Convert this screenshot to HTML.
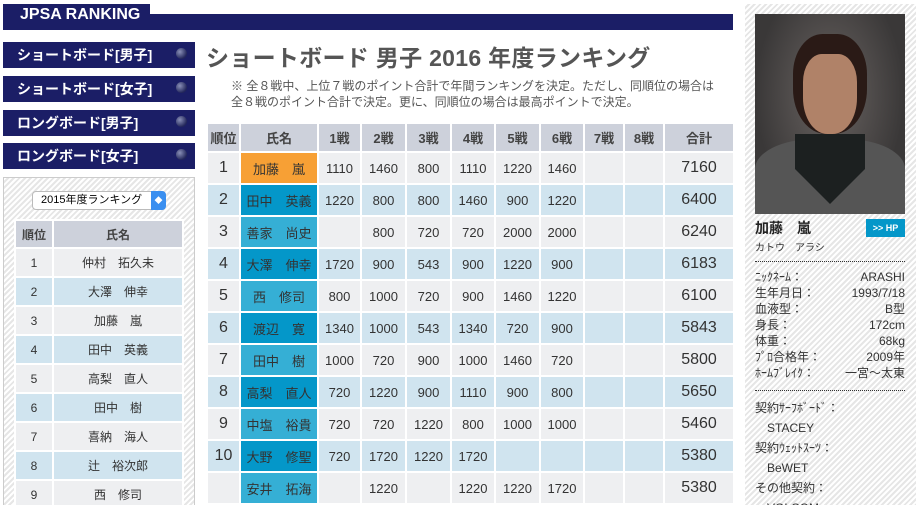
<!DOCTYPE html>
<html style="width:918px;height:505px;overflow:hidden"><head><meta charset="utf-8"><style>
*{margin:0;padding:0;box-sizing:border-box}
body{width:918px;height:505px;overflow:hidden;background:#fff;font-family:"Liberation Sans","Noto Sans CJK JP",sans-serif;color:#333;position:relative}
.abs{position:absolute}
.navy{background:#1b1e66}
.btn{position:absolute;left:3px;width:192px;height:26px;background:#1b1e66;color:#fff;font-weight:bold;font-size:14px;line-height:26px;padding-left:14px}
.btn i{position:absolute;right:8px;top:6px;width:11px;height:11px;border-radius:50%;background:radial-gradient(circle at 35% 35%,#8a90b8,#22265a 70%)}
.hatch{background:repeating-linear-gradient(135deg,#fff 0 2px,#e6e6e6 2px 4px);}
table{border-collapse:collapse}
td,th{border:2px solid #fff;text-align:center;padding:0}
th{background:#cdd1db;font-weight:bold;color:#444}
.mt td,.mt th{font-size:13px}
.mt tr.o td{background:#eeeff1}.mt tr.e td{background:#d0e4ef}
.mt td.rk{font-size:16px}
.mt td.tot{font-size:16px}
.n1{background:#f7a035!important}.nd{background:#0497c9!important}.nl{background:#35afd5!important}
.lt td{font-size:12px}.lt tr.o td{background:#eeeff1}.lt tr.e td{background:#d0e4ef}
.info{font-size:12px;line-height:16px;color:#333}
.info div{display:flex;justify-content:space-between}
</style></head><body>
<div class="abs navy" style="left:3px;top:4px;width:147px;height:26px"></div>
<div class="abs navy" style="left:3px;top:14px;width:730px;height:16px"></div>
<div class="abs" style="left:20px;top:6px;color:#fff;font-weight:bold;font-size:16px;letter-spacing:0">JPSA RANKING</div>
<div class="btn" style="top:42px">ショートボード[男子]<i></i></div>
<div class="btn" style="top:76px">ショートボード[女子]<i></i></div>
<div class="btn" style="top:110px">ロングボード[男子]<i></i></div>
<div class="btn" style="top:143px">ロングボード[女子]<i></i></div>
<div class="abs hatch" style="left:3px;top:177px;width:192px;height:328px;border:1px solid #ccc;border-bottom:none"></div>
<div class="abs" style="left:32px;top:191px;width:134px;height:19px;background:#fff;border:1px solid #bbb;border-radius:4px;font-size:11px;line-height:17px;padding-left:8px;color:#000">2015年度ランキング<span style="position:absolute;right:-1px;top:-1px;width:15px;height:19px;background:#3a8ff0;border-radius:0 4px 4px 0;color:#fff;font-size:8px;text-align:center;line-height:19px">◆</span></div>
<table class="abs lt" style="left:14px;top:219px;width:170px">
<tr style="height:28px"><th style="width:38px;font-size:12px">順位</th><th style="font-size:12px">氏名</th></tr>
<tr class="o" style="height:29px"><td>1</td><td>仲村　拓久未</td></tr>
<tr class="e" style="height:29px"><td>2</td><td>大澤　伸幸</td></tr>
<tr class="o" style="height:29px"><td>3</td><td>加藤　嵐</td></tr>
<tr class="e" style="height:29px"><td>4</td><td>田中　英義</td></tr>
<tr class="o" style="height:29px"><td>5</td><td>高梨　直人</td></tr>
<tr class="e" style="height:29px"><td>6</td><td>田中　樹</td></tr>
<tr class="o" style="height:29px"><td>7</td><td>喜納　海人</td></tr>
<tr class="e" style="height:29px"><td>8</td><td>辻　裕次郎</td></tr>
<tr class="o" style="height:29px"><td>9</td><td>西　修司</td></tr>
</table>
<div class="abs" style="left:206px;top:39px;font-size:23px;font-weight:bold;color:#555;white-space:nowrap;letter-spacing:0.3px">ショートボード 男子 2016 年度ランキング</div>
<div class="abs" style="left:231px;top:78px;font-size:12px;line-height:16px;color:#555;white-space:nowrap">※ 全８戦中、上位７戦のポイント合計で年間ランキングを決定。ただし、同順位の場合は<br>全８戦のポイント合計で決定。更に、同順位の場合は最高ポイントで決定。</div>
<table class="abs mt" style="left:206px;top:122px;width:529px">
<tr style="height:29px"><th style="width:33px">順位</th><th style="width:78px">氏名</th><th style="width:43px">1戦</th><th style="width:45px">2戦</th><th style="width:45px">3戦</th><th style="width:44px">4戦</th><th style="width:45px">5戦</th><th style="width:44px">6戦</th><th style="width:40px">7戦</th><th style="width:40px">8戦</th><th>合計</th></tr>
<tr class="o" style="height:32px"><td class="rk">1</td><td class="n1">加藤　嵐</td><td>1110</td><td>1460</td><td>800</td><td>1110</td><td>1220</td><td>1460</td><td></td><td></td><td class="tot">7160</td></tr>
<tr class="e" style="height:32px"><td class="rk">2</td><td class="nd">田中　英義</td><td>1220</td><td>800</td><td>800</td><td>1460</td><td>900</td><td>1220</td><td></td><td></td><td class="tot">6400</td></tr>
<tr class="o" style="height:32px"><td class="rk">3</td><td class="nl">善家　尚史</td><td></td><td>800</td><td>720</td><td>720</td><td>2000</td><td>2000</td><td></td><td></td><td class="tot">6240</td></tr>
<tr class="e" style="height:32px"><td class="rk">4</td><td class="nd">大澤　伸幸</td><td>1720</td><td>900</td><td>543</td><td>900</td><td>1220</td><td>900</td><td></td><td></td><td class="tot">6183</td></tr>
<tr class="o" style="height:32px"><td class="rk">5</td><td class="nl">西　修司</td><td>800</td><td>1000</td><td>720</td><td>900</td><td>1460</td><td>1220</td><td></td><td></td><td class="tot">6100</td></tr>
<tr class="e" style="height:32px"><td class="rk">6</td><td class="nd">渡辺　寛</td><td>1340</td><td>1000</td><td>543</td><td>1340</td><td>720</td><td>900</td><td></td><td></td><td class="tot">5843</td></tr>
<tr class="o" style="height:32px"><td class="rk">7</td><td class="nl">田中　樹</td><td>1000</td><td>720</td><td>900</td><td>1000</td><td>1460</td><td>720</td><td></td><td></td><td class="tot">5800</td></tr>
<tr class="e" style="height:32px"><td class="rk">8</td><td class="nd">高梨　直人</td><td>720</td><td>1220</td><td>900</td><td>1110</td><td>900</td><td>800</td><td></td><td></td><td class="tot">5650</td></tr>
<tr class="o" style="height:32px"><td class="rk">9</td><td class="nl">中塩　裕貴</td><td>720</td><td>720</td><td>1220</td><td>800</td><td>1000</td><td>1000</td><td></td><td></td><td class="tot">5460</td></tr>
<tr class="e" style="height:32px"><td class="rk">10</td><td class="nd">大野　修聖</td><td>720</td><td>1720</td><td>1220</td><td>1720</td><td></td><td></td><td></td><td></td><td class="tot">5380</td></tr>
<tr class="o" style="height:32px"><td class="rk"></td><td class="nl">安井　拓海</td><td></td><td>1220</td><td></td><td>1220</td><td>1220</td><td>1720</td><td></td><td></td><td class="tot">5380</td></tr>
</table>
<div class="abs hatch" style="left:745px;top:4px;width:171px;height:501px"></div>
<div class="abs" style="left:755px;top:14px;width:150px;height:200px;overflow:hidden;background:radial-gradient(ellipse at 50% 40%,#6a6462,#3a3838 70%)">
<div class="abs" style="left:38px;top:20px;width:74px;height:100px;border-radius:40% 40% 45% 45%;background:#2a1a16"></div>
<div class="abs" style="left:48px;top:40px;width:54px;height:80px;border-radius:35% 35% 45% 45%;background:#b08268"></div>
<div class="abs" style="left:0;top:125px;width:150px;height:75px;background:#555;border-radius:40% 40% 0 0"></div>
<div class="abs" style="left:40px;top:120px;width:70px;height:70px;background:#1c2020;clip-path:polygon(0 0,100% 0,100% 50%,50% 100%,0 50%)"></div>
</div>
<div class="abs" style="left:755px;top:218px;font-size:14px;font-weight:bold;color:#222">加藤　嵐</div>
<div class="abs" style="left:866px;top:219px;width:39px;height:18px;background:#0497c9;color:#fff;font-size:9px;font-weight:bold;text-align:center;line-height:18px">&gt;&gt; HP</div>
<div class="abs" style="left:755px;top:239px;font-size:10px;color:#333">カトウ　アラシ</div>
<div class="abs" style="left:755px;top:261px;width:150px;border-top:1px dotted #333"></div>
<div class="abs info" style="left:755px;top:269px;width:150px">
<div><span>ﾆｯｸﾈｰﾑ：</span><span>ARASHI</span></div>
<div><span>生年月日：</span><span>1993/7/18</span></div>
<div><span>血液型：</span><span>B型</span></div>
<div><span>身長：</span><span>172cm</span></div>
<div><span>体重：</span><span>68kg</span></div>
<div><span>ﾌﾟﾛ合格年：</span><span>2009年</span></div>
<div><span>ﾎｰﾑﾌﾞﾚｲｸ：</span><span>一宮〜太東</span></div>
</div>
<div class="abs" style="left:755px;top:390px;width:150px;border-top:1px dotted #333"></div>
<div class="abs info" style="left:755px;top:398px;width:150px;line-height:20px">
契約ｻｰﾌﾎﾞｰﾄﾞ：<br>　STACEY<br>契約ｳｪｯﾄｽｰﾂ：<br>　BeWET<br>その他契約：<br>　VOLCOM
</div>
</body></html>
